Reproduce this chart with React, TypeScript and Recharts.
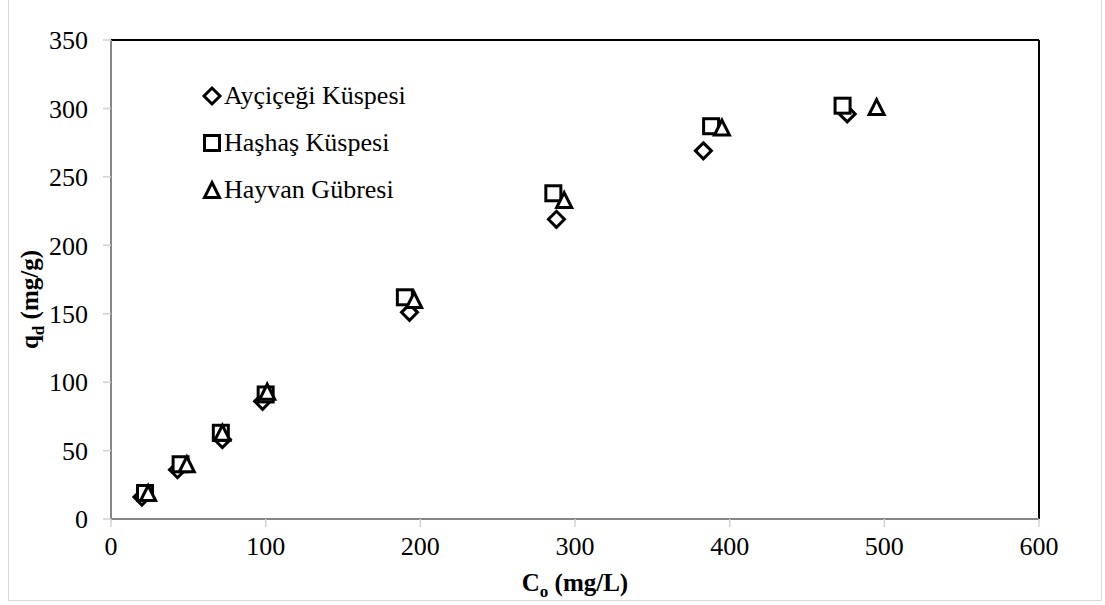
import { ScatterChart, Scatter, XAxis, YAxis, ReferenceLine } from 'recharts';

const aycicegiX = [20, 43, 72, 98, 193, 288, 383, 476];
const aycicegiY = [16, 36, 58, 86, 151, 219, 269, 296];
const hashasX = [22, 45, 71, 100, 190, 286, 388, 473];
const hashasY = [19, 40, 63, 91, 162, 238, 287, 302];
const hayvanX = [24, 49, 72, 101, 196, 293, 395, 495];
const hayvanY = [19, 40, 63, 93, 160, 233, 286, 301];

const xTicks = [0, 100, 200, 300, 400, 500, 600];
const yTicks = [0, 50, 100, 150, 200, 250, 300, 350];

const seriesNames = ['Ayçiçeği Küspesi', 'Haşhaş Küspesi', 'Hayvan Gübresi'];

const toPoints = (xs: number[], ys: number[]) => xs.map((x, i) => ({ x, y: ys[i] }));

const FONT = '"Liberation Serif", "Times New Roman", serif';
const AXIS_GREY = '#868686';
const TICK_GREY = '#d0d0d0';

// marker outlines, white fill so later series cover earlier ones
const Diamond = ({ cx, cy }: any) => (
  <path
    d={`M${cx},${cy - 8} L${cx + 8},${cy} L${cx},${cy + 8} L${cx - 8},${cy} Z`}
    fill="#fff"
    stroke="#000"
    strokeWidth={3}
    strokeLinejoin="miter"
  />
);

const Square = ({ cx, cy }: any) => (
  <rect x={cx - 7.5} y={cy - 7.5} width={15} height={15} fill="#fff" stroke="#000" strokeWidth={3} />
);

const Triangle = ({ cx, cy }: any) => (
  <path
    d={`M${cx},${cy - 7.5} L${cx + 7.5},${cy + 7.5} L${cx - 7.5},${cy + 7.5} Z`}
    fill="#fff"
    stroke="#000"
    strokeWidth={3}
    strokeLinejoin="miter"
  />
);

const markers = [Diamond, Square, Triangle];

const LegendBox = () => (
  <div style={{ fontFamily: FONT, fontSize: 26, color: '#000' }}>
    {seriesNames.map((name, i) => {
      const M = markers[i];
      return (
        <div key={name} style={{ display: 'flex', alignItems: 'center', height: 47 }}>
          <svg width={22} height={22} style={{ marginRight: 1 }}>
            <M cx={11} cy={11} />
          </svg>
          <span>{name}</span>
        </div>
      );
    })}
  </div>
);

const XTitle = ({ viewBox }: any) => {
  if (!viewBox) return null;
  const cx = viewBox.x + viewBox.width / 2;
  const y = viewBox.y + viewBox.height + 12;
  return (
    <text x={cx} y={y} textAnchor="middle" fontFamily={FONT} fontSize={25} fontWeight="bold" fill="#000">
      C<tspan dy={6} fontSize={17}>o</tspan>
      <tspan dy={-6}> (mg/L)</tspan>
    </text>
  );
};

const YTitle = ({ viewBox }: any) => {
  if (!viewBox) return null;
  const x = 38;
  const cy = viewBox.y + viewBox.height / 2 + 20;
  return (
    <text
      x={x}
      y={cy}
      textAnchor="middle"
      transform={`rotate(-90, ${x}, ${cy})`}
      fontFamily={FONT}
      fontSize={25}
      fontWeight="bold"
      fill="#000"
    >
      q<tspan dy={6} fontSize={17}>d</tspan>
      <tspan dy={-6}> (mg/g)</tspan>
    </text>
  );
};

export default function App() {
  return (
    <div
      style={{
        position: 'absolute',
        left: 0,
        top: 0,
        width: 1105,
        height: 605,
        background: '#fff',
        fontFamily: FONT,
      }}
    >
      <div
        style={{
          position: 'absolute',
          left: 8,
          top: -2,
          width: 1094,
          height: 603,
          border: '1px solid #d9d9d9',
          boxSizing: 'border-box',
        }}
      />
      <ScatterChart
        width={1105}
        height={605}
        margin={{ top: 40, right: 66, bottom: 26, left: 31 }}
        style={{ fontFamily: FONT }}
      >
        <XAxis
          type="number"
          dataKey="x"
          domain={[0, 600]}
          ticks={xTicks}
          interval={0}
          height={60}
          axisLine={{ stroke: AXIS_GREY, strokeWidth: 2 }}
          tickLine={{ stroke: TICK_GREY, strokeWidth: 1.5 }}
          tickSize={8}
          tickMargin={10}
          tick={{ fill: '#000', fontSize: 26, fontFamily: FONT }}
          label={(props: any) => <XTitle {...props} />}
        />
        <YAxis
          type="number"
          dataKey="y"
          domain={[0, 350]}
          ticks={yTicks}
          interval={0}
          width={80}
          axisLine={{ stroke: AXIS_GREY, strokeWidth: 2 }}
          tickLine={{ stroke: TICK_GREY, strokeWidth: 1.5 }}
          tickSize={8}
          tickMargin={15}
          tick={{ fill: '#000', fontSize: 26, fontFamily: FONT }}
          label={(props: any) => <YTitle {...props} />}
        />
        <ReferenceLine y={350} stroke="#000" strokeWidth={2} />
        <ReferenceLine x={600} stroke="#000" strokeWidth={2} />
        <Scatter name={seriesNames[0]} data={toPoints(aycicegiX, aycicegiY)} shape={Diamond} isAnimationActive={false} />
        <Scatter name={seriesNames[1]} data={toPoints(hashasX, hashasY)} shape={Square} isAnimationActive={false} />
        <Scatter name={seriesNames[2]} data={toPoints(hayvanX, hayvanY)} shape={Triangle} isAnimationActive={false} />
      </ScatterChart>
      <div style={{ position: 'absolute', left: 201, top: 72 }}>
        <LegendBox />
      </div>
    </div>
  );
}
